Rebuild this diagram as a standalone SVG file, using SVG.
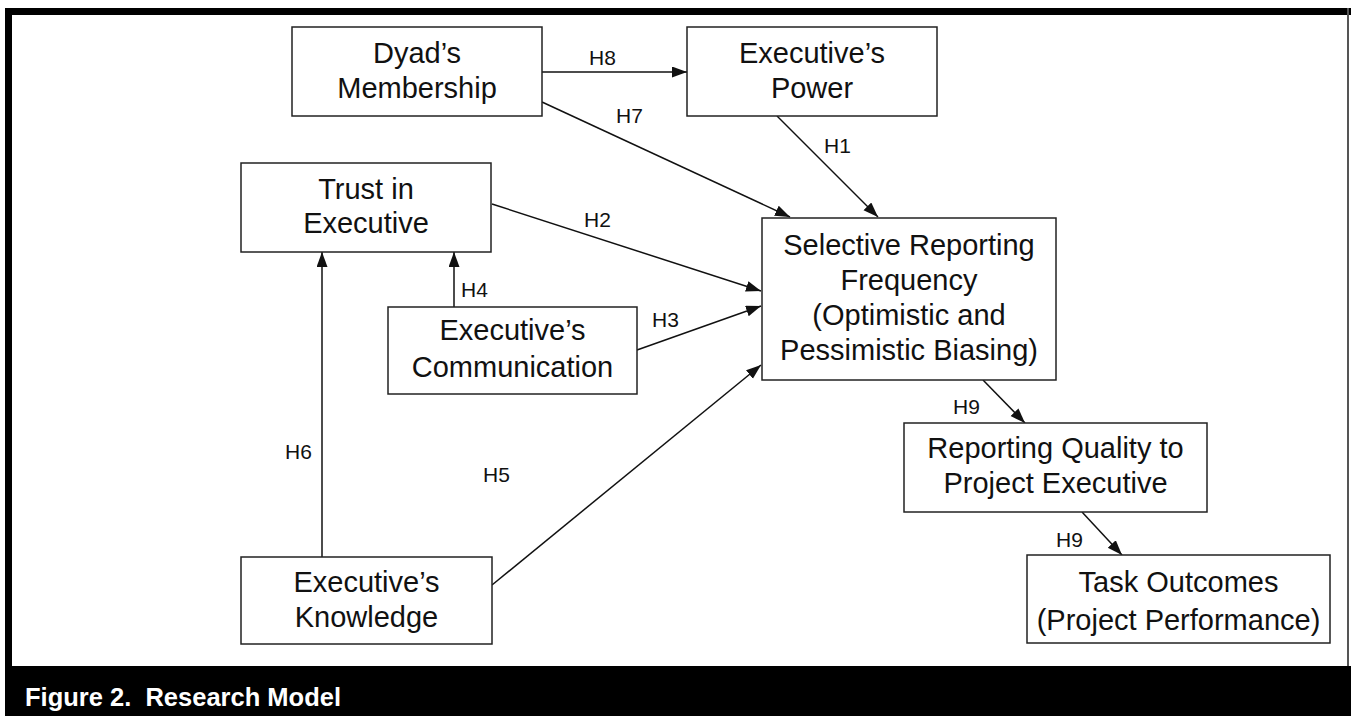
<svg xmlns="http://www.w3.org/2000/svg" width="1351" height="716" viewBox="0 0 1351 716">
<style>
.box{fill:#fff;stroke:#222;stroke-width:1.5}
.t{font-family:"Liberation Sans",Arial,sans-serif;font-size:29px;fill:#111;text-anchor:middle}
.l{font-family:"Liberation Sans",Arial,sans-serif;font-size:21px;fill:#111}
.c{stroke:#111;stroke-width:1.5;fill:none;marker-end:url(#ah)}
.cap{font-family:"Liberation Sans",Arial,sans-serif;font-size:25.5px;font-weight:bold;fill:#fff}
</style>
<defs>
<marker id="ah" markerUnits="userSpaceOnUse" markerWidth="16" markerHeight="12" refX="15" refY="5.5" orient="auto">
<path d="M0,0 L15,5.5 L0,11 Z" fill="#111"/>
</marker>
</defs>
<rect x="0" y="0" width="1351" height="716" fill="#fff"/>
<g id="frame">
<rect x="5" y="8" width="1346" height="7" fill="#000"/>
<rect x="5" y="8" width="7" height="708" fill="#000"/>
<rect x="1347" y="8" width="2" height="660" fill="#555"/>
<rect x="5" y="666" width="1346" height="50" fill="#000"/>
<text class="cap" x="25" y="706">Figure 2.&#160; Research Model</text>
</g>
<g id="connectors">
<line class="c" x1="542" y1="72" x2="687" y2="72"/>
<line class="c" x1="542" y1="102" x2="790" y2="217"/>
<line class="c" x1="777" y1="116" x2="878" y2="217"/>
<line class="c" x1="492" y1="204" x2="761" y2="291"/>
<line class="c" x1="637" y1="350" x2="761" y2="306"/>
<line class="c" x1="454" y1="307" x2="454" y2="252"/>
<line class="c" x1="322" y1="557" x2="322" y2="252"/>
<line class="c" x1="492" y1="585" x2="761" y2="365"/>
<line class="c" x1="983" y1="380" x2="1025" y2="423"/>
<line class="c" x1="1082" y1="512" x2="1122" y2="555"/>
<text class="l" x="589" y="65">H8</text>
<text class="l" x="616" y="123">H7</text>
<text class="l" x="824" y="153">H1</text>
<text class="l" x="584" y="227">H2</text>
<text class="l" x="652" y="327">H3</text>
<text class="l" x="461" y="297">H4</text>
<text class="l" x="483" y="482">H5</text>
<text class="l" x="285" y="459">H6</text>
<text class="l" x="953" y="414">H9</text>
<text class="l" x="1056" y="547">H9</text>
</g>
<g id="dyad">
<rect class="box" x="292" y="27" width="250" height="89"/>
<text class="t" x="417" y="63">Dyad’s</text>
<text class="t" x="417" y="98">Membership</text>
</g>
<g id="power">
<rect class="box" x="687" y="27" width="250" height="89"/>
<text class="t" x="812" y="63">Executive’s</text>
<text class="t" x="812" y="98">Power</text>
</g>
<g id="trust">
<rect class="box" x="241" y="163" width="250" height="89"/>
<text class="t" x="366" y="199">Trust in</text>
<text class="t" x="366" y="233">Executive</text>
</g>
<g id="communication">
<rect class="box" x="388" y="307" width="249" height="87"/>
<text class="t" x="512.5" y="340">Executive’s</text>
<text class="t" x="512.5" y="377">Communication</text>
</g>
<g id="knowledge">
<rect class="box" x="241" y="557" width="251" height="87"/>
<text class="t" x="366.5" y="592">Executive’s</text>
<text class="t" x="366.5" y="627">Knowledge</text>
</g>
<g id="selective">
<rect class="box" x="762" y="218" width="294" height="162"/>
<text class="t" x="909" y="255">Selective Reporting</text>
<text class="t" x="909" y="290">Frequency</text>
<text class="t" x="909" y="325">(Optimistic and</text>
<text class="t" x="909" y="360">Pessimistic Biasing)</text>
</g>
<g id="quality">
<rect class="box" x="904" y="423" width="303" height="89"/>
<text class="t" x="1055.5" y="458">Reporting Quality to</text>
<text class="t" x="1055.5" y="493">Project Executive</text>
</g>
<g id="outcomes">
<rect class="box" x="1027" y="555" width="303" height="88"/>
<text class="t" x="1178.5" y="592">Task Outcomes</text>
<text class="t" x="1178.5" y="630">(Project Performance)</text>
</g>
</svg>
